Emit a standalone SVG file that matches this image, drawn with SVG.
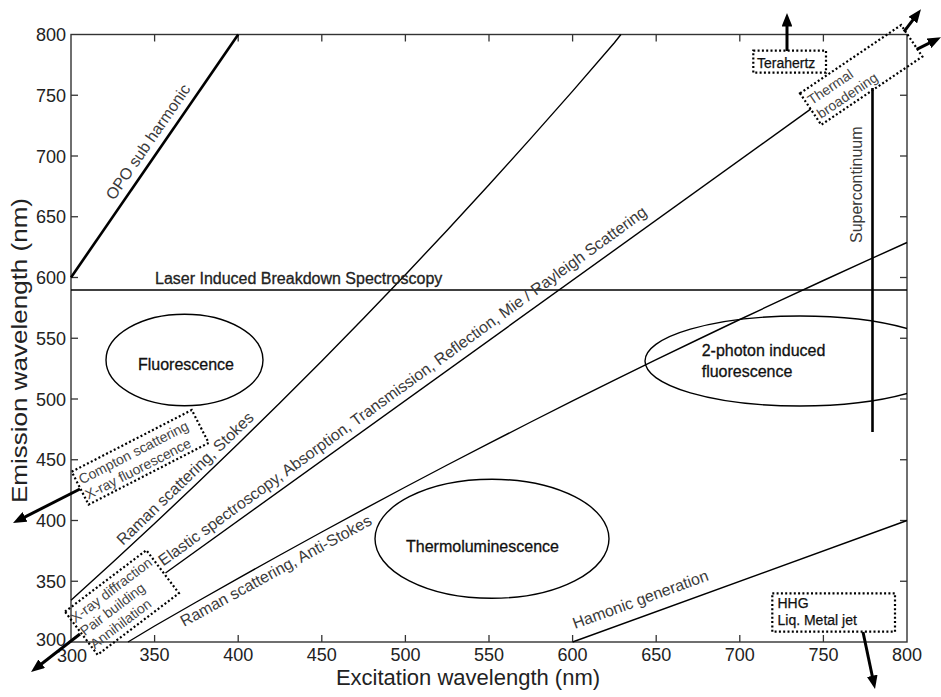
<svg xmlns="http://www.w3.org/2000/svg" width="941" height="697" viewBox="0 0 941 697">
<style>
text{font-family:"Liberation Sans",Arial,Helvetica,sans-serif;}
.tick{font-size:18px;fill:#222;}
.axt{font-size:22px;fill:#222;}
.lbl{font-size:16px;fill:#3a3a3a;}
.dark{font-size:16px;fill:#111;stroke:#111;stroke-width:0.3;}
.box{font-size:14px;fill:#444;}
.boxd{font-size:14px;fill:#111;stroke:#111;stroke-width:0.25;}
.frame{fill:none;stroke:#333;stroke-width:1.4;}
.tk{stroke:#333;stroke-width:1.3;}
.curve{fill:none;stroke:#000;stroke-width:1.4;stroke-linejoin:round;}
.thick{fill:none;stroke:#000;stroke-width:2.6;}
.dot{fill:none;stroke:#000;stroke-width:2.2;stroke-dasharray:2 2.3;}
.ell{fill:none;stroke:#000;stroke-width:1.4;}
.arr{fill:none;stroke:#000;stroke-width:3;marker-end:url(#ah);}
</style>
<defs>
<marker id="ah" viewBox="0 0 10 8" markerWidth="4.5" markerHeight="3.6" refX="6" refY="4" orient="auto" markerUnits="strokeWidth">
<path d="M0,0 L10,4 L0,8 z" fill="#000"/>
</marker>
<clipPath id="plot"><rect x="71" y="34.5" width="836" height="607.5"/></clipPath>
</defs>
<rect width="941" height="697" fill="#fff"/>

<g id="axes">
<rect class="frame" x="71" y="34.5" width="836" height="607.5"/>
<g class="tk">
<line x1="154.6" y1="642" x2="154.6" y2="635"/><line x1="238.2" y1="642" x2="238.2" y2="635"/><line x1="321.8" y1="642" x2="321.8" y2="635"/><line x1="405.4" y1="642" x2="405.4" y2="635"/><line x1="489" y1="642" x2="489" y2="635"/><line x1="572.6" y1="642" x2="572.6" y2="635"/><line x1="656.2" y1="642" x2="656.2" y2="635"/><line x1="739.8" y1="642" x2="739.8" y2="635"/><line x1="823.4" y1="642" x2="823.4" y2="635"/>
<line x1="154.6" y1="34.5" x2="154.6" y2="41.5"/><line x1="238.2" y1="34.5" x2="238.2" y2="41.5"/><line x1="321.8" y1="34.5" x2="321.8" y2="41.5"/><line x1="405.4" y1="34.5" x2="405.4" y2="41.5"/><line x1="489" y1="34.5" x2="489" y2="41.5"/><line x1="572.6" y1="34.5" x2="572.6" y2="41.5"/><line x1="656.2" y1="34.5" x2="656.2" y2="41.5"/><line x1="739.8" y1="34.5" x2="739.8" y2="41.5"/><line x1="823.4" y1="34.5" x2="823.4" y2="41.5"/>
<line x1="71" y1="95.25" x2="78" y2="95.25"/><line x1="71" y1="156" x2="78" y2="156"/><line x1="71" y1="216.75" x2="78" y2="216.75"/><line x1="71" y1="277.5" x2="78" y2="277.5"/><line x1="71" y1="338.25" x2="78" y2="338.25"/><line x1="71" y1="399" x2="78" y2="399"/><line x1="71" y1="459.75" x2="78" y2="459.75"/><line x1="71" y1="520.5" x2="78" y2="520.5"/><line x1="71" y1="581.25" x2="78" y2="581.25"/>
<line x1="907" y1="95.25" x2="900" y2="95.25"/><line x1="907" y1="156" x2="900" y2="156"/><line x1="907" y1="216.75" x2="900" y2="216.75"/><line x1="907" y1="277.5" x2="900" y2="277.5"/><line x1="907" y1="338.25" x2="900" y2="338.25"/><line x1="907" y1="399" x2="900" y2="399"/><line x1="907" y1="459.75" x2="900" y2="459.75"/><line x1="907" y1="520.5" x2="900" y2="520.5"/><line x1="907" y1="581.25" x2="900" y2="581.25"/>
</g>
<g class="tick" text-anchor="middle">
<text x="72" y="662">300</text><text x="154.6" y="661">350</text><text x="238.2" y="661">400</text><text x="321.8" y="661">450</text><text x="405.4" y="661">500</text><text x="489" y="661">550</text><text x="572.6" y="661">600</text><text x="656.2" y="661">650</text><text x="739.8" y="661">700</text><text x="823.4" y="661">750</text><text x="907" y="661">800</text>
</g>
<g class="tick" text-anchor="end">
<text x="66" y="41">800</text><text x="66" y="101.8">750</text><text x="66" y="162.5">700</text><text x="66" y="223.3">650</text><text x="66" y="284">600</text><text x="66" y="344.8">550</text><text x="66" y="405.5">500</text><text x="66" y="466.3">450</text><text x="66" y="527">400</text><text x="66" y="587.8">350</text><text x="66" y="646">300</text>
</g>
<text class="axt" x="468" y="685" text-anchor="middle">Excitation wavelength (nm)</text>
<text class="axt" transform="translate(27,503) rotate(-90)" textLength="305" lengthAdjust="spacingAndGlyphs">Emission wavelength (nm)</text>
</g>

<g id="connectors">
<line id="opo-line" class="thick" x1="71" y1="277.5" x2="238.2" y2="34.5"/>
<line id="libs-line" class="curve" x1="71" y1="290" x2="907" y2="290"/>
<polyline id="raman-stokes-line" class="curve" points="71,600.2 112.8,562.2 154.6,523.5 196.4,484.1 238.2,443.8 280,402.8 321.8,361 363.6,318.2 405.4,274.7 447.2,230.2 489,184.8 530.8,138.4 572.6,91.1 614.4,42.7 620.9,34.5"/>
<line id="elastic-line" class="curve" x1="165.5" y1="573" x2="810.6" y2="109.1"/>
<polyline id="anti-stokes-line" class="curve" points="128,642 154.6,626 196.4,602 238.2,578.3 280,555 321.8,532 363.6,509.3 405.4,487 447.2,465 489,443.4 530.8,422 572.6,400.9 614.4,380.1 656.2,359.7 698,339.5 739.8,319.5 781.6,299.9 823.4,280.5 865.2,261.4 907,242.5"/>
<line id="harmonic-line" class="curve" x1="572.6" y1="642" x2="907" y2="520.5"/>
<line id="supercontinuum-line" class="thick" x1="872.5" y1="88" x2="872.5" y2="432"/>
<line class="arr" x1="787" y1="51" x2="787" y2="18.5"/>
<line class="arr" x1="904" y1="31.7" x2="917.7" y2="13.6"/>
<line class="arr" x1="916.7" y1="49.3" x2="936.2" y2="39.7"/>
<line class="arr" x1="80" y1="489" x2="17.8" y2="520.6"/>
<line class="arr" x1="80" y1="634" x2="35.3" y2="668.7"/>
<line class="arr" x1="863" y1="632" x2="873.9" y2="683.7"/>
</g>

<g id="labels">
<text class="lbl" transform="translate(114,201) rotate(-55.47)">OPO sub harmonic</text>
<text class="dark" x="155" y="284" style="fill:#222;stroke:#222">Laser Induced Breakdown Spectroscopy</text>
<text class="lbl" transform="translate(123,546) rotate(-44)">Raman scattering, Stokes</text>
<text class="lbl" transform="translate(163.3,566.5) rotate(-36)">Elastic spectroscopy, Absorption, Transmission, Reflection, Mie / Rayleigh Scattering</text>
<text class="lbl" transform="translate(184,627) rotate(-28.6)">Raman scattering, Anti-Stokes</text>
<text class="lbl" transform="translate(575,629) rotate(-20)">Hamonic generation</text>
<text class="lbl" transform="translate(862,243) rotate(-90)">Supercontinuum</text>
</g>

<g id="fluorescence">
<ellipse class="ell" cx="184.5" cy="360" rx="78.5" ry="45.7"/>
<text class="dark" x="186" y="370" text-anchor="middle">Fluorescence</text>
</g>
<g id="thermoluminescence">
<ellipse class="ell" cx="492" cy="538.8" rx="117" ry="59.5"/>
<text class="dark" x="406" y="551.5">Thermoluminescence</text>
</g>
<g id="two-photon">
<ellipse class="ell" cx="800" cy="361" rx="155" ry="45" clip-path="url(#plot)"/>
<text class="dark" x="701.7" y="356">2-photon induced</text>
<text class="dark" x="701.7" y="376.5">fluorescence</text>
</g>

<g id="terahertz">
<rect class="dot" x="753.3" y="50.7" width="72.7" height="22"/>
<text class="boxd" x="757" y="68">Terahertz</text>
</g>
<g id="thermal-broadening" transform="translate(800,93.3) rotate(-34)">
<rect class="dot" x="0" y="0" width="122" height="38"/>
<text class="box" x="3" y="16.5">Thermal</text>
<text class="box" x="3" y="33">broadening</text>
</g>
<g id="compton" transform="translate(71.7,471.7) rotate(-27.2)">
<rect class="dot" x="0" y="0" width="135" height="37"/>
<text class="box" x="3" y="16">Compton scattering</text>
<text class="box" x="2" y="32.5">X-ray fluorescence</text>
</g>
<g id="xray-diffraction" transform="translate(65,611.7) rotate(-37.1)">
<rect class="dot" x="0" y="0" width="102" height="54"/>
<text class="box" x="1" y="15.5">X-ray diffraction</text>
<text class="box" x="1" y="31.5">Pair building</text>
<text class="box" x="1" y="48">Annihilation</text>
</g>
<g id="hhg">
<rect class="dot" x="772.3" y="593.3" width="122.7" height="38.4"/>
<text class="boxd" x="777.5" y="608">HHG</text>
<text class="boxd" x="777.5" y="625">Liq. Metal jet</text>
</g>
</svg>
